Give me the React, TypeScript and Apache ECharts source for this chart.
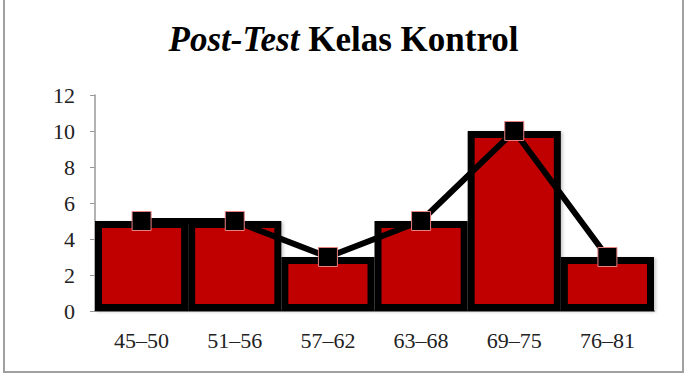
import React, { useEffect, useRef } from "react";
import * as echarts from "echarts";

const categories = ["45–50", "51–56", "57–62", "63–68", "69–75", "76–81"];
const frequencies = [5, 5, 3, 5, 10, 3];
const yTicks = { min: 0, max: 12, interval: 2 };

const SERIF = "Liberation Serif";

export default function App() {
  const ref = useRef<HTMLDivElement>(null);
  useEffect(() => {
    if (!ref.current) return;
    const chart = echarts.init(ref.current, null, { renderer: "svg" });
    chart.setOption({
      animation: false,
      backgroundColor: "#ffffff",
      textStyle: { fontFamily: SERIF },
      title: {
        text: "{a|Post-Test}{b| Kelas Kontrol}",
        left: "center",
        top: 17,
        textStyle: {
          fontFamily: SERIF,
          rich: {
            a: { fontFamily: SERIF, fontSize: 35, fontWeight: "bold", fontStyle: "italic", color: "#000" },
            b: { fontFamily: SERIF, fontSize: 35, fontWeight: "bold", color: "#000" },
          },
        },
      },
      grid: { left: 95, right: 33, top: 95, bottom: 64 },
      xAxis: {
        type: "category",
        data: categories,
        axisLine: { show: true, lineStyle: { color: "#888", width: 2 } },
        axisTick: { show: false },
        axisLabel: { fontFamily: SERIF, fontSize: 22, color: "#222", margin: 18 },
      },
      yAxis: {
        type: "value",
        min: yTicks.min,
        max: yTicks.max,
        interval: yTicks.interval,
        axisLine: { show: true, lineStyle: { color: "#999", width: 1.5 } },
        axisTick: { show: true, length: 5, lineStyle: { color: "#999" } },
        splitLine: { show: false },
        axisLabel: { fontFamily: SERIF, fontSize: 22, color: "#222", margin: 20 },
      },
      series: [
        {
          type: "bar",
          data: frequencies,
          barCategoryGap: "0%",
          itemStyle: {
            color: "#C00000",
            borderColor: "#000",
            borderWidth: 7,
            shadowColor: "rgba(0,0,0,0.2)",
            shadowBlur: 3,
            shadowOffsetX: 2,
            shadowOffsetY: 1,
          },
        },
        {
          type: "line",
          data: frequencies,
          symbol: "rect",
          symbolSize: 19,
          lineStyle: { color: "#000", width: 6 },
          itemStyle: { color: "#000", borderColor: "#e88080", borderWidth: 1 },
          z: 5,
        },
      ],
    });
    return () => chart.dispose();
  }, []);
  return (
    <div style={{ position: "fixed", left: 0, top: 0, width: 687, height: 375, background: "#fff" }}>
      <div
        style={{
          position: "absolute",
          left: 3,
          top: -2,
          width: 681,
          height: 375,
          border: "2px solid #a0a0a0",
          boxSizing: "border-box",
          pointerEvents: "none",
          zIndex: 2,
        }}
      />
      <div ref={ref} style={{ width: 687, height: 375 }} />
    </div>
  );
}
